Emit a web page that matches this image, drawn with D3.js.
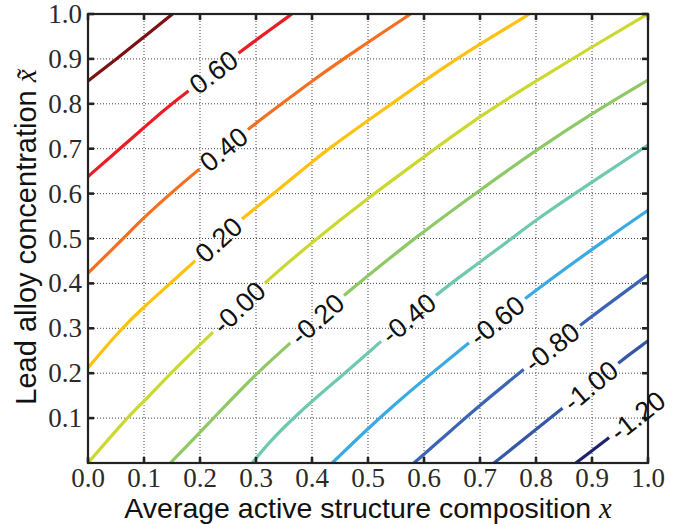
<!DOCTYPE html>
<html>
<head>
<meta charset="utf-8">
<script src="https://cdn.jsdelivr.net/npm/d3@7"></script>
<style>
  html, body { margin: 0; padding: 0; background: #fff; }
  svg { display: block; }
</style>
</head>
<body>
<svg id="chart" width="681" height="524"></svg>
<script>
// --- data --------------------------------------------------------------------
const levels      = [0.8, 0.6, 0.4, 0.2, 0.0, -0.2, -0.4, -0.6, -0.8, -1.0, -1.2];
const levelLabels = [null, "0.60", "0.40", "0.20", "-0.00", "-0.20", "-0.40", "-0.60", "-0.80", "-1.00", "-1.20"];
// where each inline label sits along its contour (x in data units)
const labelX      = [null, 0.224, 0.242, 0.233, 0.269, 0.409, 0.572, 0.730, 0.828, 0.897, 0.981];

// contour paths, [x, x~]
const c080  = [[0,0.851],[0.051,0.9],[0.1,0.949],[0.151,1.0]];
const c060  = [[0,0.638],[0.057,0.7],[0.1,0.747],[0.148,0.8],[0.272,0.916],[0.3,0.942],[0.364,1.0]];
const c040  = [[0,0.423],[0.063,0.5],[0.1,0.547],[0.147,0.6],[0.197,0.653],[0.287,0.745],[0.346,0.8],
               [0.4,0.851],[0.454,0.898],[0.5,0.937],[0.576,1.0]];
const c020  = [[0,0.212],[0.06,0.3],[0.1,0.348],[0.147,0.4],[0.191,0.45],[0.275,0.545],[0.335,0.603],
               [0.4,0.671],[0.43,0.7],[0.5,0.763],[0.54,0.798],[0.6,0.851],[0.656,0.898],[0.7,0.933],[0.788,1.0]];
const c000  = [[0,0],[0.069,0.1],[0.1,0.137],[0.147,0.2],[0.221,0.289],[0.317,0.404],[0.4,0.4915],
               [0.5,0.59],[0.6,0.682],[0.7,0.773],[0.8,0.851],[0.9,0.927],[1.0,1.0]];
const cm020 = [[0.147,0],[0.2,0.068],[0.224,0.1],[0.301,0.2],[0.361,0.267],[0.457,0.374],[0.5,0.417],
               [0.582,0.5],[0.7,0.608],[0.8,0.697],[0.9,0.779],[1.0,0.853]];
const cm040 = [[0.293,0],[0.326,0.05],[0.367,0.1],[0.4,0.138],[0.4585,0.2],[0.5,0.245],[0.522,0.27],
               [0.621,0.374],[0.657,0.408],[0.7,0.448],[0.757,0.5],[0.8,0.542],[0.9,0.626],[1.0,0.708]];
const cm060 = [[0.436,0],[0.5,0.077],[0.55,0.133],[0.6,0.186],[0.657,0.244],[0.779,0.367],[0.93,0.503],[1.0,0.563]];
const cm080 = [[0.582,0],[0.6565,0.081],[0.683,0.111],[0.776,0.207],[0.88,0.309],[1.0,0.419]];
const cm100 = [[0.725,0],[0.844,0.118],[0.949,0.226],[1.0,0.272]];
const cm120 = [[0.871,0],[0.925,0.051],[1.0,0.124]];
const contours = [c080, c060, c040, c020, c000, cm020, cm040, cm060, cm080, cm100, cm120];

const xTickVals   = [0, 0.1, 0.2, 0.3, 0.4, 0.5, 0.6, 0.7, 0.8, 0.9, 1.0];
const xTickLabels = ["0.0","0.1","0.2","0.3","0.4","0.5","0.6","0.7","0.8","0.9","1.0"];
const yTickVals   = [0.1, 0.2, 0.3, 0.4, 0.5, 0.6, 0.7, 0.8, 0.9, 1.0];
const yTickLabels = ["0.1","0.2","0.3","0.4","0.5","0.6","0.7","0.8","0.9","1.0"];

// --- styles ------------------------------------------------------------------
const lineColors = ["#7b1113","#ec1c24","#f46f20","#fec10e","#cbd830","#8fc966",
                    "#6fc8b0","#3aaae2","#3c64b4","#3557a8","#1e226e"];
const SERIF = "'Liberation Serif','Times New Roman',serif";
const SANS  = "'Liberation Sans',Arial,Helvetica,sans-serif";

const svg = d3.select('#chart');
const x = d3.scaleLinear().domain([0, 1]).range([88, 648]);
const y = d3.scaleLinear().domain([0, 1]).range([463, 14]);
const [x0, x1] = x.range(), [y0, y1] = y.range();

const defs = svg.append('defs');
defs.append('clipPath').attr('id', 'plotClip')
  .append('rect').attr('x', x0).attr('y', y1).attr('width', x1 - x0).attr('height', y0 - y1);

// --- grid --------------------------------------------------------------------
const grid = svg.append('g').attr('stroke', '#444').attr('stroke-width', 1)
  .attr('stroke-dasharray', '1,2');
grid.selectAll('line.gx').data(xTickVals.slice(1, -1)).join('line').attr('class', 'gx')
  .attr('x1', d => x(d)).attr('x2', d => x(d)).attr('y1', y0).attr('y2', y1);
grid.selectAll('line.gy').data(yTickVals.slice(0, -1)).join('line').attr('class', 'gy')
  .attr('y1', d => y(d)).attr('y2', d => y(d)).attr('x1', x0).attr('x2', x1);

// --- label placement along each contour ---------------------------------------
function placeOnPath(pts, xv){
  const P = pts.map(p => [x(p[0]), y(p[1])]);
  const px = x(xv);
  let i = 0;
  while (i < P.length - 2 && P[i + 1][0] < px) i++;
  const a = P[i], b = P[i + 1];
  const t = (px - a[0]) / (b[0] - a[0]);
  return { x: px, y: a[1] + t * (b[1] - a[1]),
           angle: Math.atan2(b[1] - a[1], b[0] - a[0]) * 180 / Math.PI };
}

const labels = levels.map((lv, i) => levelLabels[i] ? Object.assign(
  { text: levelLabels[i], idx: i }, placeOnPath(contours[i], labelX[i])) : null).filter(Boolean);

// mask that opens gaps in the lines where the labels go
const mask = defs.append('mask').attr('id', 'labelGaps').attr('maskUnits', 'userSpaceOnUse')
  .attr('x', 0).attr('y', 0).attr('width', 681).attr('height', 524);
mask.append('rect').attr('width', 681).attr('height', 524).attr('fill', '#fff');

// --- contours ----------------------------------------------------------------
// b-spline smooths out the wobble of hand-read points
const line = d3.line().x(d => x(d[0])).y(d => y(d[1])).curve(d3.curveBasis);
svg.append('g').attr('clip-path', 'url(#plotClip)')
  .append('g').attr('mask', 'url(#labelGaps)')
  .selectAll('path').data(contours).join('path')
  .attr('d', line).attr('fill', 'none')
  .attr('stroke', (d, i) => lineColors[i]).attr('stroke-width', 3.2);

// --- frame & ticks -------------------------------------------------------------
svg.append('rect').attr('x', x0).attr('y', y1).attr('width', x1 - x0).attr('height', y0 - y1)
  .attr('fill', 'none').attr('stroke', '#222').attr('stroke-width', 2.2);

const ticks = svg.append('g').attr('stroke', '#222').attr('stroke-width', 2.6);
const TL = 6;
xTickVals.forEach(v => {
  ticks.append('line').attr('x1', x(v)).attr('x2', x(v)).attr('y1', y0).attr('y2', y0 - TL);
  ticks.append('line').attr('x1', x(v)).attr('x2', x(v)).attr('y1', y1).attr('y2', y1 + TL);
});
yTickVals.forEach(v => {
  ticks.append('line').attr('y1', y(v)).attr('y2', y(v)).attr('x1', x0).attr('x2', x0 + TL);
  ticks.append('line').attr('y1', y(v)).attr('y2', y(v)).attr('x1', x1).attr('x2', x1 - TL);
});

svg.append('g').selectAll('text').data(xTickVals).join('text')
  .attr('x', d => x(d)).attr('y', 487).attr('text-anchor', 'middle')
  .attr('font-family', SERIF).attr('font-size', 27).attr('fill', '#2a2a2a')
  .text((d, i) => xTickLabels[i]);
svg.append('g').selectAll('text').data(yTickVals).join('text')
  .attr('x', 82).attr('y', d => y(d) + 9).attr('text-anchor', 'end')
  .attr('font-family', SERIF).attr('font-size', 27).attr('fill', '#2a2a2a')
  .text((d, i) => yTickLabels[i]);

// --- inline contour labels -------------------------------------------------------
const lab = svg.append('g').selectAll('g').data(labels).join('g')
  .attr('transform', d => `translate(${d.x},${d.y}) rotate(${d.angle})`);
lab.append('text').attr('text-anchor', 'middle').attr('dy', '0.36em')
  .attr('font-family', SANS).attr('font-size', 27).attr('fill', '#111')
  .text(d => d.text);
lab.each(function(d){
  const w = d3.select(this).select('text').node().getComputedTextLength() + 10;
  mask.append('rect').attr('x', -w / 2).attr('y', -6).attr('width', w).attr('height', 12)
    .attr('fill', '#000')
    .attr('transform', `translate(${d.x},${d.y}) rotate(${d.angle})`);
});

// --- axis titles -------------------------------------------------------------------
const xt = svg.append('text').attr('x', (x0 + x1) / 2).attr('y', 518).attr('text-anchor', 'middle')
  .attr('font-family', SANS).attr('font-size', 28.5).attr('fill', '#111');
xt.append('tspan').text('Average active structure composition ');
xt.append('tspan').attr('font-family', SERIF).attr('font-style', 'italic').text('x');

const yt = svg.append('text')
  .attr('transform', `translate(36,237) rotate(-90)`).attr('text-anchor', 'middle')
  .attr('font-family', SANS).attr('font-size', 29).attr('fill', '#111');
yt.append('tspan').text('Lead alloy concentration ');
yt.append('tspan').attr('font-family', SERIF).attr('font-style', 'italic').text('x\u0303');
</script>
</body>
</html>
